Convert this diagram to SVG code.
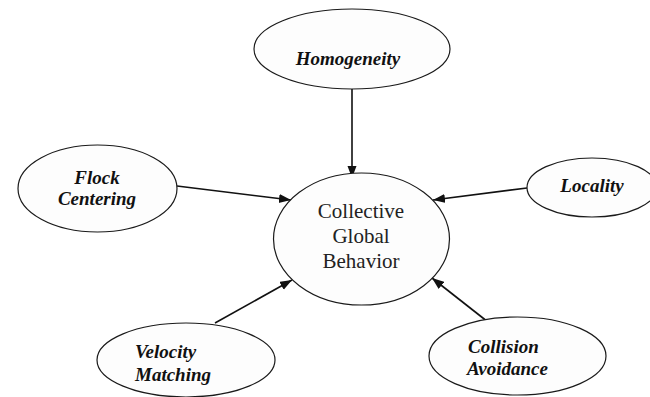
<svg xmlns="http://www.w3.org/2000/svg" width="650" height="397" viewBox="0 0 650 397">
  <style>
    .node ellipse { fill: #fdfdfd; stroke: #1a1a1a; stroke-width: 1.2; }
    .lbl { font-size: 19px; font-weight: bold; font-style: italic; fill: #111; }
    .main { font-size: 21px; fill: #222; text-anchor: middle; }
    .edge { stroke: #111; stroke-width: 1.6; fill: none; marker-end: url(#arrow); }
  </style>
  <defs>
    <marker id="arrow" markerUnits="userSpaceOnUse" markerWidth="13" markerHeight="10" refX="12" refY="4.5" orient="auto">
      <path d="M0,0 L12,4.5 L0,9 z" fill="#111"/>
    </marker>
  </defs>
  <rect width="650" height="397" fill="#ffffff"/>

  <g id="connectors">
    <line class="edge" x1="352" y1="88" x2="352" y2="178"/>
    <line class="edge" x1="177" y1="186" x2="291" y2="200"/>
    <line class="edge" x1="527" y1="188" x2="433" y2="200"/>
    <line class="edge" x1="215" y1="323" x2="292" y2="280"/>
    <line class="edge" x1="488" y1="322" x2="432" y2="278"/>
  </g>

  <g font-family="'Liberation Serif', 'DejaVu Serif', 'Times New Roman', serif">
  <g id="homogeneity" class="node">
    <ellipse cx="352" cy="49" rx="98" ry="40"/>
    <text class="lbl" x="348" y="65" text-anchor="middle">Homogeneity</text>
  </g>

  <g id="collective" class="node">
    <ellipse cx="361.5" cy="239" rx="88" ry="66"/>
    <text class="main" x="361" y="218">Collective</text>
    <text class="main" x="361" y="243">Global</text>
    <text class="main" x="361" y="268">Behavior</text>
  </g>

  <g id="flock" class="node">
    <ellipse cx="97.5" cy="188.5" rx="79.5" ry="43.5"/>
    <text class="lbl" x="97" y="184" text-anchor="middle">Flock</text>
    <text class="lbl" x="97" y="205" text-anchor="middle">Centering</text>
  </g>

  <g id="locality" class="node">
    <ellipse cx="592" cy="187.5" rx="65" ry="29.5"/>
    <text class="lbl" x="592" y="192" text-anchor="middle">Locality</text>
  </g>

  <g id="velocity" class="node">
    <ellipse cx="186" cy="360" rx="89" ry="37"/>
    <text class="lbl" x="135" y="358">Velocity</text>
    <text class="lbl" x="135" y="381">Matching</text>
  </g>

  <g id="collision" class="node">
    <ellipse cx="517.5" cy="356" rx="88.5" ry="39"/>
    <text class="lbl" x="468" y="353">Collision</text>
    <text class="lbl" x="467" y="375">Avoidance</text>
  </g>
  </g>
</svg>
